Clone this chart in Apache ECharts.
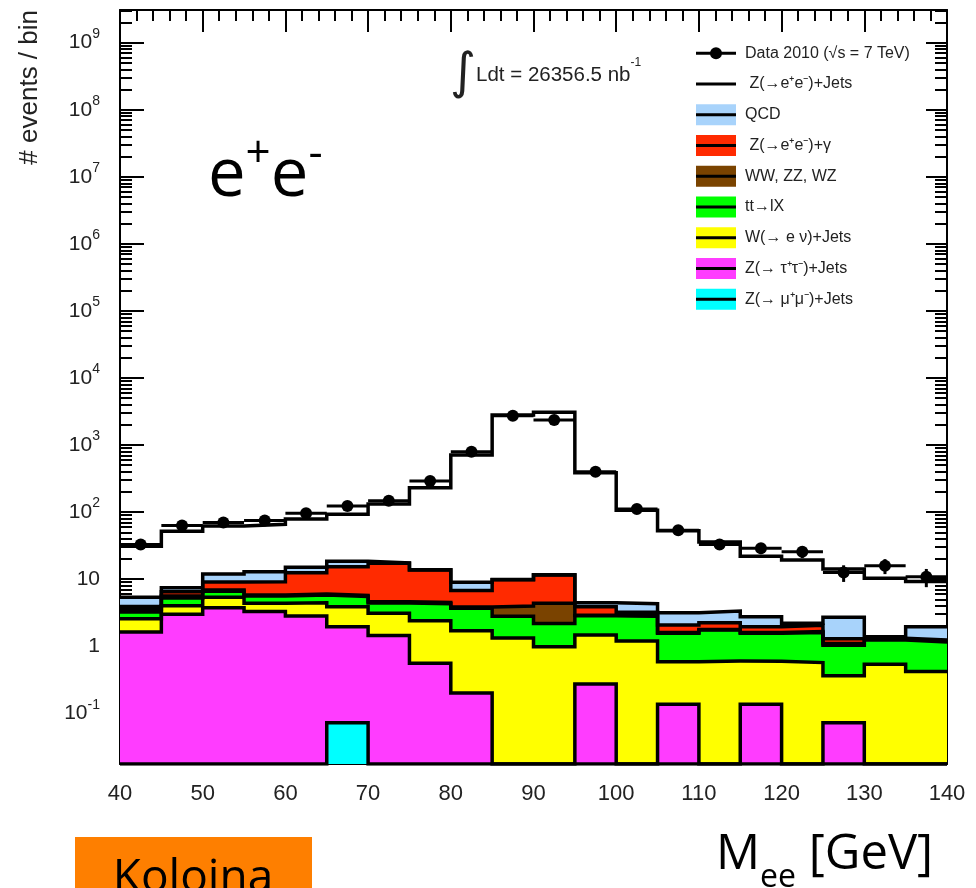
<!DOCTYPE html>
<html><head><meta charset="utf-8">
<script src="https://cdn.jsdelivr.net/npm/echarts@6/dist/echarts.min.js"></script>
<style>html,body{margin:0;padding:0;background:#fff}#c{width:976px;height:888px}</style>
</head><body><div id="c"></div>
<script>
// ---- data ----
const BIN_EDGES = [40,45,50,55,60,65,70,75,80,85,90,95,100,105,110,115,120,125,130,135,140];
const DATA_2010 = [33,63,70,75,96,123,148,290,795,2735,2361,400,111,53.5,33,29,25.7,12.6,15.9,10.9];
const DATA_ERR  = [5.7,7.9,8.4,8.7,9.8,11.1,12.2,17,28,52,49,20,10.5,7.3,5.7,5.4,5.1,3.5,4,3.3];
const Z_MUMU     = [0,0,0,0,0,0.072,0,0,0,0,0,0,0,0,0,0,0,0,0,0];
const Z_TAUTAU   = [1.63,3.0,3.75,3.3,2.82,1.88,1.45,0.556,0.2,0,0,0.273,0,0.137,0,0.137,0,0.072,0,0];
const W_ENU      = [0.93,1.02,1.61,1.06,1.63,1.93,1.65,1.84,1.5,1.33,0.98,1.2,1.2,0.45,0.6,0.46,0.57,0.29,0.54,0.42];
const TTBAR      = [0.68,1.21,1.24,1.24,1.35,1.62,1.3,1.9,2.0,1.47,1.21,1.38,1.6,0.97,1.14,0.96,1.03,0.67,0.7,0.74];
const DIBOSON    = [0.31,0.37,0.3,0.2,0.2,0.2,0.2,0.2,0.15,1.18,2.17,0.05,0.05,0.04,0.04,0.04,0.05,0.07,0.04,0.04];
const Z_EE_GAMMA = [0.35,0.87,2.16,3.36,6.5,9.6,12.7,9.2,2.95,5.82,7.14,0.98,0.35,0.47,0.46,0.35,0.4,0.19,0.04,0.04];
const QCD        = [1.46,0.98,2.84,3.74,2.5,3.2,0.2,0.1,2.2,0.1,0.1,0.57,1.1,1.09,1.11,0.8,0.15,1.41,0.07,0.71];
const Z_EE_JETS  = [25.6,44.5,50.1,53.1,64,74.5,114.5,217.2,701,2790,3063,381.5,102.7,49.8,32.6,19.25,17.1,11.5,8.9,7.25];

const SERIES_NAMES = ['Data 2010 (√s = 7 TeV)',' Z(→e⁺e⁻)+Jets','QCD',' Z(→e⁺e⁻)+γ','WW, ZZ, WZ','tt→lX','W(→ e ν)+Jets','Z(→ τ⁺τ⁻)+Jets','Z(→ μ⁺μ⁻)+Jets'];
const Y_DECADES = [0.1,1,10,100,1e3,1e4,1e5,1e6,1e7,1e8,1e9];
const Y_EXPONENTS = [-1,0,1,2,3,4,5,6,7,8,9];
const Y_MIN = 0.01754, Y_MAX = 3.07e9;

// ---- styling ----
const COLORS = {qcd:'#A8D3FB', zg:'#FF2A00', vv:'#7A4300', tt:'#00FF00', w:'#FFFF00', tau:'#FF3CFF', mu:'#00FFFF'};
const FONT = 'Liberation Sans, Arial, Helvetica, sans-serif';
const SANS2 = 'Open Sans, Noto Sans, sans-serif';
const LW = 3.5;

// stack bottom -> top
const STACK = [
  {name:SERIES_NAMES[8], vals:Z_MUMU, color:COLORS.mu},
  {name:SERIES_NAMES[7], vals:Z_TAUTAU, color:COLORS.tau},
  {name:SERIES_NAMES[6], vals:W_ENU, color:COLORS.w},
  {name:SERIES_NAMES[5], vals:TTBAR, color:COLORS.tt},
  {name:SERIES_NAMES[4], vals:DIBOSON, color:COLORS.vv},
  {name:SERIES_NAMES[3], vals:Z_EE_GAMMA, color:COLORS.zg},
  {name:SERIES_NAMES[2], vals:QCD, color:COLORS.qcd},
  {name:SERIES_NAMES[1], vals:Z_EE_JETS, color:null}
];
let run = new Array(Z_MUMU.length).fill(0);
STACK.forEach(s => { run = run.map((r,i)=>r + s.vals[i]); s.cum = run.slice(); });

function stepData(cum){
  const pts = cum.map((v,i)=>[BIN_EDGES[i], Math.max(v, Y_MIN)]);
  pts.push([BIN_EDGES[BIN_EDGES.length-1], Math.max(cum[cum.length-1], Y_MIN)]);
  return pts;
}

const series = [];
for (let k = STACK.length-1; k >= 0; k--) {
  const s = STACK[k];
  const ser = {
    name: s.name, type:'line', step:'end', data: stepData(s.cum),
    symbol:'none', silent:true, animation:false,
    lineStyle:{color:'#000', width:LW, join:'miter'},
  };
  if (s.color) ser.areaStyle = {color:s.color, opacity:1, origin:'start'};
  series.push(ser);
}
series.push({
  name: SERIES_NAMES[0], type:'custom', animation:false, silent:true, z:10,
  data: DATA_2010.map((v,i)=>[(BIN_EDGES[i]+BIN_EDGES[i+1])/2, v, DATA_ERR[i], BIN_EDGES[i], BIN_EDGES[i+1]]),
  encode:{x:0, y:1},
  renderItem: (p, api) => {
    const x = api.value(0), y = api.value(1), e = api.value(2), lo = api.value(3), hi = api.value(4);
    const c = api.coord([x,y]), l = api.coord([lo,y]), r = api.coord([hi,y]);
    const t = api.coord([x,y+e]), b = api.coord([x,y-e]);
    return {type:'group', children:[
      {type:'line', shape:{x1:l[0],y1:c[1],x2:r[0],y2:c[1]}, style:{stroke:'#000', lineWidth:3}},
      {type:'line', shape:{x1:c[0],y1:t[1],x2:c[0],y2:b[1]}, style:{stroke:'#000', lineWidth:3}},
      {type:'circle', shape:{cx:c[0],cy:c[1],r:6}, style:{fill:'#000'}}
    ]};
  }
});

// minor ticks 2..9 per decade (axis decoration)
const Y_MINOR = [];
[0.01].concat(Y_DECADES).forEach(d => { for (let m=2;m<=9;m++){ const v=d*m; if (v>Y_MIN && v<Y_MAX) Y_MINOR.push(v); } });

const axLine = {show:true, lineStyle:{color:'#000', width:2}};
const tickLS = {color:'#000', width:2};
const yBase = {type:'log', logBase:10, min:Y_MIN, max:Y_MAX, splitLine:{show:false}, minorTick:{show:false}, minorSplitLine:{show:false}};
const xBase = {type:'value', min:40, max:140, interval:10, splitLine:{show:false}, axisLine:axLine,
  axisTick:{inside:true, length:22, lineStyle:tickLS},
  minorTick:{show:true, splitNumber:5, length:11, lineStyle:tickLS}};

const option = {
  animation:false,
  backgroundColor:'#fff',
  grid:{left:120, right:29, top:10, bottom:124, containLabel:false, outerBoundsMode:'none'},
  xAxis:[
    Object.assign({}, xBase, {position:'bottom', axisLabel:{fontSize:22, color:'#222', margin:19, fontFamily:FONT}}),
    Object.assign({}, xBase, {position:'top', axisLabel:{show:false}})
  ],
  yAxis:[
    Object.assign({}, yBase, {position:'left', axisLine:axLine,
      axisTick:{inside:true, length:24, customValues:Y_DECADES, lineStyle:tickLS},
      axisLabel:{customValues:Y_DECADES, margin:20, color:'#222', fontFamily:FONT,
        formatter: v => { const e = Y_EXPONENTS[Y_DECADES.findIndex(d => Math.abs(Math.log10(d)-Math.log10(v))<1e-6)];
          if (e===0) return '{b|1}'; if (e===1) return '{b|10}'; return '{b|10}{s|'+e+'}'; },
        rich:{b:{fontSize:21, lineHeight:34, verticalAlign:'middle', fontFamily:FONT, color:'#222'},
              s:{fontSize:14, lineHeight:34, verticalAlign:'middle', padding:[0,0,17,0], fontFamily:FONT, color:'#222'}}}}),
    Object.assign({}, yBase, {position:'left', axisLine:{show:false},
      axisTick:{inside:true, length:12, customValues:Y_MINOR, lineStyle:tickLS}, axisLabel:{show:false}}),
    Object.assign({}, yBase, {position:'right', axisLine:axLine,
      axisTick:{inside:true, length:21, customValues:Y_DECADES, lineStyle:tickLS}, axisLabel:{show:false}}),
    Object.assign({}, yBase, {position:'right', axisLine:{show:false},
      axisTick:{inside:true, length:12, customValues:Y_MINOR, lineStyle:tickLS}, axisLabel:{show:false}})
  ],
  series: series,
  graphic: []
};

// legend (drawn as graphics)
const LEG_X = 696, LEG_Y0 = 53.3, LEG_DY = 30.75;
const legendFills = [null, null, COLORS.qcd, COLORS.zg, COLORS.vv, COLORS.tt, COLORS.w, COLORS.tau, COLORS.mu];
SERIES_NAMES.forEach((name, i) => {
  const y = LEG_Y0 + i*LEG_DY;
  if (legendFills[i]) option.graphic.push({type:'rect', shape:{x:LEG_X, y:y-10.5, width:40, height:21}, style:{fill:legendFills[i]}});
  option.graphic.push({type:'line', shape:{x1:LEG_X, y1:y, x2:LEG_X+40, y2:y}, style:{stroke:'#000', lineWidth:3}});
  if (i===0) option.graphic.push({type:'circle', shape:{cx:LEG_X+20, cy:y, r:6}, style:{fill:'#000'}});
  option.graphic.push({type:'text', x:745, y:y, style:{text:name, font:'16px '+FONT, fill:'#222', verticalAlign:'middle'}});
});

option.graphic.push(
  {type:'text', x:450, y:45, style:{text:'{i|∫}{t|Ldt = 26356.5 nb}{s|-1}', verticalAlign:'top',
    rich:{i:{fontSize:50, lineHeight:60, verticalAlign:'middle', fontFamily:'DejaVu Sans, sans-serif', fill:'#222'},
          t:{fontSize:20.5, lineHeight:60, verticalAlign:'middle', fontFamily:FONT, fill:'#222'},
          s:{fontSize:12, lineHeight:60, verticalAlign:'middle', padding:[0,0,24,0], fontFamily:FONT, fill:'#222'}}}},
  {type:'text', x:208, y:137, style:{text:'{b|e}{s|+}{b|e}{s|-}', verticalAlign:'top',
    rich:{b:{fontSize:67, lineHeight:80, verticalAlign:'middle', fontFamily:SANS2, fill:'#000'},
          s:{fontSize:44, lineHeight:80, verticalAlign:'middle', padding:[0,0,46,0], fontFamily:SANS2, fill:'#000'}}}},
  {type:'text', x:30, y:10, rotation:Math.PI/2, style:{text:'# events / bin', font:'26px '+FONT, fill:'#222', align:'right', verticalAlign:'middle'}},
  {type:'rect', shape:{x:75, y:837, width:237, height:60}, style:{fill:'#FE7F00'}},
  {type:'text', x:193, y:856, style:{text:'Koloina', font:'46px '+SANS2, fill:'#000', align:'center', verticalAlign:'top'}},
  {type:'text', x:716, y:815, style:{text:'{b|M}{s|ee}{b| [GeV]}', verticalAlign:'top',
    rich:{b:{fontSize:49, lineHeight:80, verticalAlign:'middle', fontFamily:SANS2, fill:'#000'},
          s:{fontSize:32, lineHeight:80, verticalAlign:'middle', padding:[46,0,0,0], fontFamily:SANS2, fill:'#000'}}}}
);

const chart = echarts.init(document.getElementById('c'), null, {renderer:'canvas'});
chart.setOption(option);
</script></body></html>
